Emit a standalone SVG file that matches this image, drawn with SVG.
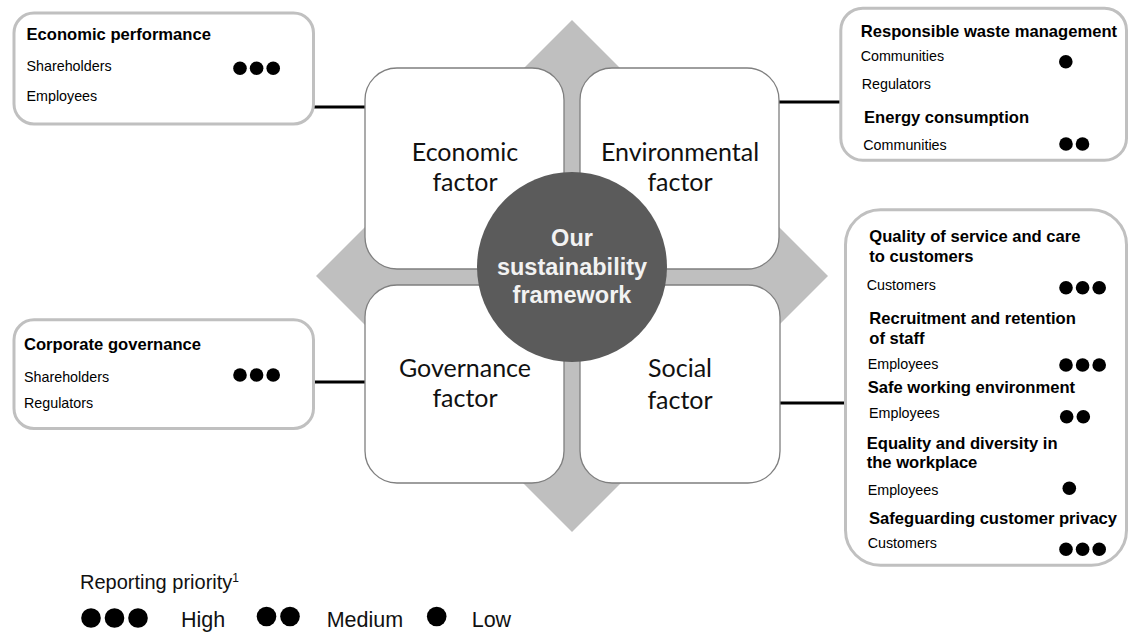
<svg xmlns="http://www.w3.org/2000/svg" width="1130" height="637" viewBox="0 0 1130 637">
  <style>
    .side { fill: #ffffff; stroke: #c0c0c0; stroke-width: 3; }
    .factor { fill: #ffffff; stroke: #7f7f7f; stroke-width: 1.3; }
    .flabel { font-family: Lato, "Open Sans", sans-serif; font-size: 25px; fill: #111111; text-anchor: middle; }
    .hub { font-family: "Liberation Sans", Arial, sans-serif; font-size: 23.5px; font-weight: bold; fill: #f2f2f2; text-anchor: middle; }
    .title { font-family: "Liberation Sans", Arial, sans-serif; font-size: 16.6px; font-weight: bold; fill: #000000; }
    .item { font-family: "Liberation Sans", Arial, sans-serif; font-size: 14.3px; fill: #000000; }
    .legend { font-family: "Liberation Sans", Arial, sans-serif; font-size: 21.5px; fill: #111111; }
    .dot { fill: #000000; }
    .link { stroke: #000000; stroke-width: 3; fill: none; }
  </style>

  <rect width="1130" height="637" fill="#ffffff"/>

  <!-- backing diamond that shows through between the four factor tiles -->
  <polygon id="diamond" points="572,20 828,276 572,532 316,276" fill="#bfbfbf"/>

  <!-- connectors from the factor tiles to their topic boxes -->
  <g id="connectors">
    <line class="link" x1="313" y1="107" x2="365" y2="107"/>
    <line class="link" x1="313" y1="382" x2="365" y2="382"/>
    <line class="link" x1="779" y1="102" x2="840" y2="102"/>
    <line class="link" x1="780" y1="403" x2="845" y2="403"/>
  </g>

  <g id="economic-factor">
    <rect class="factor" x="365" y="68" width="199" height="201" rx="32"/>
    <text class="flabel" x="465" y="161">Economic</text>
    <text class="flabel" x="465" y="191">factor</text>
  </g>

  <g id="environmental-factor">
    <rect class="factor" x="580" y="68" width="199" height="201" rx="32"/>
    <text class="flabel" x="680" y="161">Environmental</text>
    <text class="flabel" x="680" y="191">factor</text>
  </g>

  <g id="governance-factor">
    <rect class="factor" x="365" y="285" width="199" height="198" rx="32"/>
    <text class="flabel" x="465" y="377">Governance</text>
    <text class="flabel" x="465" y="407">factor</text>
  </g>

  <g id="social-factor">
    <rect class="factor" x="580" y="285" width="200" height="198" rx="32"/>
    <text class="flabel" x="680" y="377">Social</text>
    <text class="flabel" x="680" y="409">factor</text>
  </g>

  <g id="hub">
    <circle cx="572" cy="267" r="95" fill="#5b5b5b"/>
    <text class="hub" x="572" y="246">Our</text>
    <text class="hub" x="572" y="275">sustainability</text>
    <text class="hub" x="572" y="303">framework</text>
  </g>

  <g id="economic-topics">
    <rect class="side" x="14" y="13" width="299.5" height="111" rx="20"/>
    <text class="title" x="26.5" y="39.5">Economic performance</text>
    <text class="item" x="26.5" y="71">Shareholders</text>
    <text class="item" x="26.5" y="101">Employees</text>
    <circle class="dot" cx="240" cy="68.3" r="6.8"/>
    <circle class="dot" cx="256.6" cy="68.3" r="6.8"/>
    <circle class="dot" cx="273.2" cy="68.3" r="6.8"/>
  </g>

  <g id="governance-topics">
    <rect class="side" x="14" y="319.8" width="299.5" height="108.7" rx="20"/>
    <text class="title" x="24" y="350">Corporate governance</text>
    <text class="item" x="24" y="381.7">Shareholders</text>
    <text class="item" x="24" y="407.5">Regulators</text>
    <circle class="dot" cx="240" cy="375" r="6.8"/>
    <circle class="dot" cx="256.6" cy="375" r="6.8"/>
    <circle class="dot" cx="273.2" cy="375" r="6.8"/>
  </g>

  <g id="environmental-topics">
    <rect class="side" x="840.8" y="8.2" width="285.7" height="152" rx="22"/>
    <text class="title" x="860.7" y="37">Responsible waste management</text>
    <text class="item" x="860.7" y="61">Communities</text>
    <circle class="dot" cx="1065.8" cy="61.7" r="6.8"/>
    <text class="item" x="861.7" y="89.3">Regulators</text>
    <text class="title" x="864" y="122.7">Energy consumption</text>
    <text class="item" x="863.3" y="150">Communities</text>
    <circle class="dot" cx="1066" cy="144" r="6.8"/>
    <circle class="dot" cx="1082.5" cy="144" r="6.8"/>
  </g>

  <g id="social-topics">
    <rect class="side" x="845.5" y="209.8" width="281" height="355.4" rx="35"/>
    <text class="title" x="869.3" y="241.7">Quality of service and care</text>
    <text class="title" x="869.3" y="261.7">to customers</text>
    <text class="item" x="866.7" y="290">Customers</text>
    <circle class="dot" cx="1066" cy="287.8" r="6.8"/>
    <circle class="dot" cx="1082.6" cy="287.8" r="6.8"/>
    <circle class="dot" cx="1099.2" cy="287.8" r="6.8"/>
    <text class="title" x="869.3" y="324">Recruitment and retention</text>
    <text class="title" x="869.3" y="344">of staff</text>
    <text class="item" x="867.7" y="369">Employees</text>
    <circle class="dot" cx="1066" cy="365" r="6.8"/>
    <circle class="dot" cx="1082.6" cy="365" r="6.8"/>
    <circle class="dot" cx="1099.2" cy="365" r="6.8"/>
    <text class="title" x="867.7" y="393.3">Safe working environment</text>
    <text class="item" x="869" y="418.3">Employees</text>
    <circle class="dot" cx="1066.7" cy="416.7" r="6.8"/>
    <circle class="dot" cx="1083.3" cy="416.7" r="6.8"/>
    <text class="title" x="866.7" y="449.3">Equality and diversity in</text>
    <text class="title" x="866.7" y="468.3">the workplace</text>
    <text class="item" x="867.7" y="495">Employees</text>
    <circle class="dot" cx="1069.3" cy="488.3" r="6.8"/>
    <text class="title" x="869" y="524">Safeguarding customer privacy</text>
    <text class="item" x="867.7" y="548.3">Customers</text>
    <circle class="dot" cx="1066" cy="549.3" r="6.8"/>
    <circle class="dot" cx="1082.6" cy="549.3" r="6.8"/>
    <circle class="dot" cx="1099.2" cy="549.3" r="6.8"/>
  </g>

  <g id="legend">
    <text class="legend" x="80" y="589.3" style="font-size:20px">Reporting priority<tspan dy="-7" style="font-size:12px">1</tspan></text>
    <circle class="dot" cx="91" cy="618" r="9.8"/>
    <circle class="dot" cx="114.5" cy="618" r="9.8"/>
    <circle class="dot" cx="138" cy="618" r="9.8"/>
    <text class="legend" x="181" y="626.7">High</text>
    <circle class="dot" cx="266.5" cy="616.5" r="9.8"/>
    <circle class="dot" cx="290" cy="616.5" r="9.8"/>
    <text class="legend" x="326.7" y="626.7">Medium</text>
    <circle class="dot" cx="436.7" cy="616.5" r="9.8"/>
    <text class="legend" x="471.7" y="626.7">Low</text>
  </g>
</svg>
